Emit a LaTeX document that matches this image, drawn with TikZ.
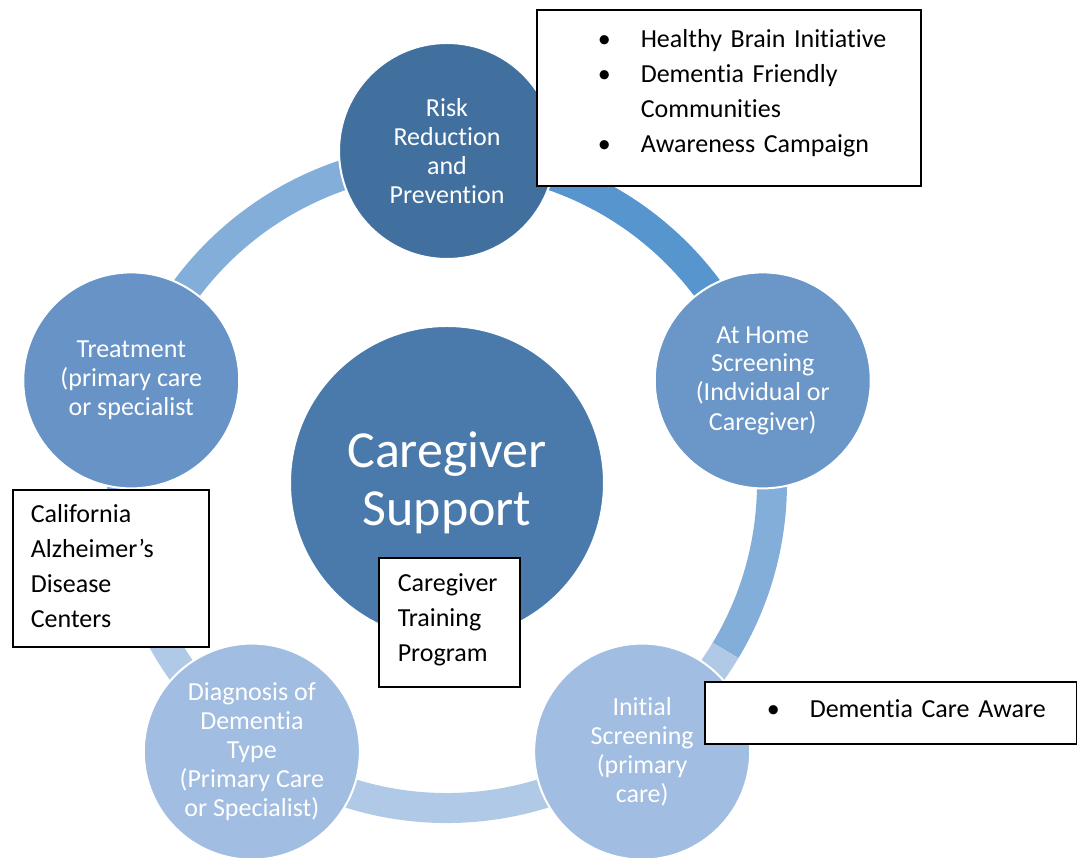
\documentclass[tikz,border=0pt]{standalone}
\usepackage{fontspec}
\setmainfont{Carlito}[Ligatures={NoCommon,NoContextual,NoRequired},Contextuals=NoAlternate]
\usetikzlibrary{positioning}
\definecolor{topblue}{RGB}{65,112,158}
\definecolor{hubblue}{RGB}{74,122,171}
\definecolor{rightblue}{RGB}{106,150,200}
\definecolor{leftblue}{RGB}{104,147,198}
\definecolor{lowblue}{RGB}{161,189,225}
\definecolor{arcdeep}{RGB}{87,149,206}
\definecolor{arcmid}{RGB}{132,174,218}
\definecolor{arclight}{RGB}{176,201,230}
\tikzset{
  stage/.style={circle, draw=white, line width=2pt, minimum size=216pt, inner sep=0pt,
    text=white, align=center, font=\fontsize{26}{29}\selectfont},
  band/.style={line width=30pt},
  notebox/.style={draw=black, line width=1.6pt, fill=white, anchor=north west,
    inner xsep=0pt, inner ysep=0pt, align=left, font=\fontsize{26}{35}\selectfont}
}

\begin{document}
\begin{tikzpicture}[x=1pt,y=1pt]
\useasboundingbox (0,0) rectangle (1077,858);
\coordinate (hub) at (447,375);
\draw[band, arcdeep] (hub) ++(90:325) arc[start angle=90, end angle=18, radius=325];
\draw[band, arcmid] (hub) ++(18:325) arc[start angle=18, end angle=-31, radius=325];
\draw[band, arclight] (hub) ++(-31:325) arc[start angle=-31, end angle=-160, radius=325];
\draw[band, arcmid] (hub) ++(200:325) arc[start angle=200, end angle=90, radius=325];
\node[stage, fill=topblue] (risk) at ([shift={(90:332)}]hub) {Risk\\Reduction\\and\\Prevention};
\node[stage, fill=rightblue] (home) at ([shift={(18:332)}]hub) {At Home\\Screening\\(Indvidual or\\Caregiver)};
\node[stage, fill=lowblue] (initial) at ([shift={(-54:332)}]hub) {Initial\\Screening\\(primary\\care)};
\node[stage, fill=lowblue] (diagnosis) at ([shift={(-126:332)}]hub) {Diagnosis of\\Dementia\\Type\\(Primary Care\\or Specialist)};
\node[stage, fill=leftblue] (treatment) at ([shift={(162:332)}]hub) {Treatment\\(primary care\\or specialist};
\node[circle, draw=white, line width=2pt, fill=hubblue, minimum size=314pt, inner sep=0pt,
  text=white, align=center, font=\fontsize{52}{58}\selectfont] (support) at (hub) {Caregiver\\Support};
\node[notebox, text width=384pt, minimum height=176pt] (brainbox) at (536,849)
  {\noindent\hspace*{61pt}\begin{tabular}{@{}p{43pt}@{}l@{}}
  \textbullet & Healthy Brain Initiative\\
  \textbullet & Dementia Friendly\\
  & Communities\\
  \textbullet & Awareness Campaign\rule[-21pt]{0pt}{0pt}
  \end{tabular}};
\node[notebox, text width=372pt, minimum height=62pt] (awarebox) at (704,177)
  {\noindent\hspace*{62pt}\begin{tabular}{@{}p{43pt}@{}l@{}}
  \textbullet & Dementia Care Aware\rule[-16pt]{0pt}{0pt}
  \end{tabular}};
\node[notebox, text width=196pt, minimum height=157pt] (centerbox) at (12,369)
  {\noindent\hspace*{18pt}\begin{tabular}{@{}l@{}}
  California\\ Alzheimer’s\\ Disease\\ Centers
  \end{tabular}};
\node[notebox, text width=141pt, minimum height=129pt] (trainbox) at (378,301)
  {\noindent\hspace*{19pt}\begin{tabular}{@{}l@{}}
  Caregiver\\ Training\\ Program\rule[-16pt]{0pt}{0pt}
  \end{tabular}};
\end{tikzpicture}
\end{document}
